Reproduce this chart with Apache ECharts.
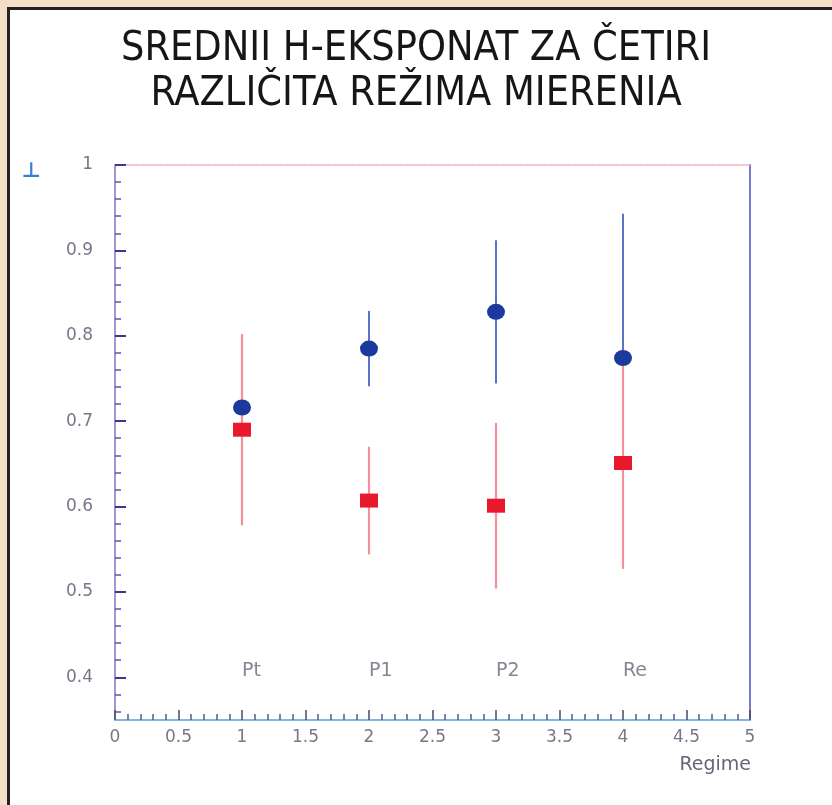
<!DOCTYPE html>
<html><head><meta charset="utf-8">
<script src="https://cdn.jsdelivr.net/npm/echarts@6/dist/echarts.min.js"></script>
<style>html,body{margin:0;padding:0;background:#fff}#c{width:832px;height:805px}</style>
</head><body><div id="c"></div>
<script>
// ---- data ----
const titleText = 'SREDNII H-EKSPONAT ZA ČETIRI\nRAZLIČITA REŽIMA MIERENIA';
const xAxisTitle = 'Regime';
const yAxisTitle = '⊥';
const regimeX = [1, 2, 3, 4];
const regimeNames = ['Pt', 'P1', 'P2', 'Re'];
const regimeNameY = 0.407;
const blueMean = [0.716, 0.785, 0.828, 0.774];
const blueErr  = [0.008, 0.044, 0.084, 0.169];
const redMean  = [0.690, 0.607, 0.601, 0.651];
const redErr   = [0.112, 0.063, 0.097, 0.124];
const yMajorTicks = [0.4, 0.5, 0.6, 0.7, 0.8, 0.9, 1];
const yMinorTicks = [0.36, 0.38, 0.42, 0.44, 0.46, 0.48, 0.52, 0.54, 0.56, 0.58,
  0.62, 0.64, 0.66, 0.68, 0.72, 0.74, 0.76, 0.78, 0.82, 0.84, 0.86, 0.88,
  0.92, 0.94, 0.96, 0.98];

// ---- build ----
const blueBars = regimeX.map((x, i) => [x, blueMean[i] - blueErr[i], blueMean[i] + blueErr[i]]);
const redBars  = regimeX.map((x, i) => [x, redMean[i] - redErr[i], redMean[i] + redErr[i]]);
const bluePts  = regimeX.map((x, i) => [x, blueMean[i]]);
const redPts   = regimeX.map((x, i) => [x, redMean[i]]);
const namePts  = regimeX.map((x, i) => ({ value: [x, regimeNameY], name: regimeNames[i] }));

function barRenderer(color, width) {
  return function (params, api) {
    const p1 = api.coord([api.value(0), api.value(1)]);
    const p2 = api.coord([api.value(0), api.value(2)]);
    return { type: 'line', shape: { x1: p1[0], y1: p1[1], x2: p2[0], y2: p2[1] },
      style: { stroke: color, lineWidth: width } };
  };
}

const labelFont = "'DejaVu Sans', 'Liberation Sans', sans-serif";
const chart = echarts.init(document.getElementById('c'), null, { renderer: 'canvas' });
chart.setOption({
  backgroundColor: '#ffffff',
  animation: false,
  title: {
    text: titleText, left: 'center', top: 22,
    textStyle: { fontFamily: "'Liberation Sans Narrow', 'DejaVu Sans Condensed', 'Liberation Sans', sans-serif",
      fontSize: 41, fontWeight: 'normal', color: '#161616', lineHeight: 45 }
  },
  grid: { left: 115, right: 82, top: 165, bottom: 85, containLabel: false },
  xAxis: [{
    type: 'value', position: 'bottom', min: 0, max: 5, interval: 0.5,
    axisLine: { show: true, lineStyle: { color: '#7cb8e6', width: 2 } },
    axisTick: { show: true, inside: true, length: 10, lineStyle: { color: '#4a4a6a', width: 1.5 } },
    minorTick: { show: true, splitNumber: 5, length: 6, lineStyle: { color: '#5a5a7a', width: 1.5 } },
    axisLabel: { color: '#77778a', fontSize: 17, margin: 9, fontFamily: labelFont },
    splitLine: { show: false }, minorSplitLine: { show: false }
  }, {
    type: 'value', position: 'top', min: 0, max: 5,
    axisLine: { show: true, lineStyle: { color: '#f2a8c4', width: 1.5, type: 'dotted' } },
    axisTick: { show: false }, axisLabel: { show: false }, splitLine: { show: false }
  }],
  yAxis: [{
    type: 'value', position: 'left', min: 0.35, max: 1,
    axisLine: { show: true, lineStyle: { color: '#9a9ad8', width: 2 } },
    axisTick: { show: true, inside: true, length: 11, customValues: yMajorTicks, lineStyle: { color: '#3d3590', width: 2 } },
    axisLabel: { show: true, customValues: yMajorTicks, color: '#77778a', fontSize: 17, margin: 22, fontFamily: labelFont },
    splitLine: { show: false }
  }, {
    type: 'value', position: 'left', min: 0.35, max: 1,
    axisLine: { show: false },
    axisTick: { show: true, inside: true, length: 6, customValues: yMinorTicks, lineStyle: { color: '#5a5aa0', width: 1.5 } },
    axisLabel: { show: false }, splitLine: { show: false }
  }, {
    type: 'value', position: 'right', min: 0.35, max: 1,
    axisLine: { show: true, lineStyle: { color: '#7a7acc', width: 2 } },
    axisTick: { show: false }, axisLabel: { show: false }, splitLine: { show: false }
  }],
  series: [
    { type: 'custom', name: 'blueErr', xAxisIndex: 0, yAxisIndex: 0, data: blueBars,
      renderItem: barRenderer('#5a72c8', 2), z: 2 },
    { type: 'custom', name: 'redErr', xAxisIndex: 0, yAxisIndex: 0, data: redBars,
      renderItem: barRenderer('#f3909a', 2.2), z: 3 },
    { type: 'scatter', name: 'blue', data: bluePts, symbol: 'circle', symbolSize: [18, 16],
      itemStyle: { color: '#1c3a9e', opacity: 1 }, z: 4 },
    { type: 'scatter', name: 'red', data: redPts, symbol: 'rect', symbolSize: [18, 14],
      itemStyle: { color: '#e8192c', opacity: 1 }, z: 5 },
    { type: 'scatter', name: 'names', data: namePts, symbolSize: 0, silent: true,
      label: { show: true, position: 'right', distance: 0, formatter: p => p.name,
        color: '#66667a', fontSize: 19, fontFamily: labelFont }, z: 6 }
  ],
  graphic: [
    { type: 'rect', z: 0, shape: { x: 0, y: 0, width: 832, height: 7 }, style: { fill: '#f3dfc8' } },
    { type: 'rect', z: 0, shape: { x: 0, y: 0, width: 7, height: 805 }, style: { fill: '#f3dfc8' } },
    { type: 'rect', z: 1, shape: { x: 7, y: 7, width: 825, height: 3 }, style: { fill: '#222' } },
    { type: 'rect', z: 1, shape: { x: 7, y: 7, width: 3, height: 798 }, style: { fill: '#222' } },
    { type: 'text', x: 751, y: 765, style: { text: xAxisTitle, align: 'right', verticalAlign: 'middle',
      fill: '#66667a', fontSize: 19, fontFamily: labelFont } },
    { type: 'text', x: 31, y: 172, style: { text: yAxisTitle, align: 'center', verticalAlign: 'middle',
      fill: '#3a80d0', fontSize: 21, fontWeight: 'bold', fontFamily: "'DejaVu Sans', sans-serif" } }
  ]
});
</script>
</body></html>
